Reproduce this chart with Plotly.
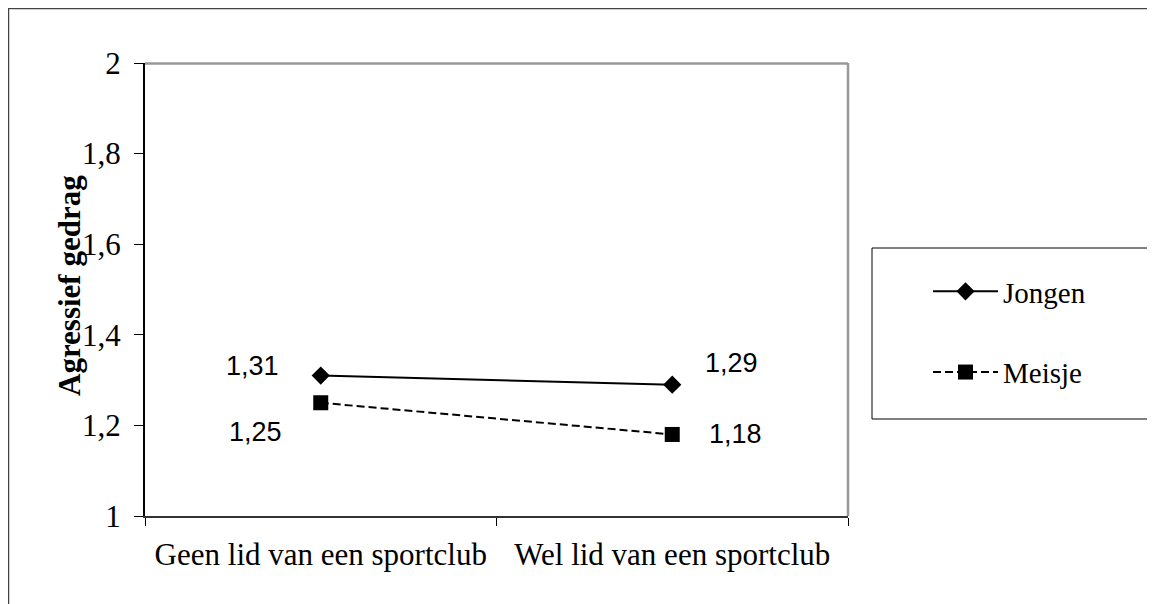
import plotly.graph_objects as go

categories = ["Geen lid van een sportclub", "Wel lid van een sportclub"]
jongen = [1.31, 1.29]
meisje = [1.25, 1.18]
series_names = ["Jongen", "Meisje"]
y_tickvals = [1, 1.2, 1.4, 1.6, 1.8, 2]
y_ticktext = ["1", "1,2", "1,4", "1,6", "1,8", "2"]
y_title = "Agressief gedrag"

W, H = 1155, 604
OFF = 8  # page body margin
SL, SR, ST, SB = 145, 848, 63, 516  # plot area in screen pixels


def px(x):
    return (x - SL) / (SR - SL)


def py(y):
    return (SB - y) / (SB - ST)


def fmt(v):
    return f"{v:.2f}".replace(".", ",")


SERIF = "Liberation Serif, Times New Roman, serif"
SANS = "Liberation Sans, Arial, sans-serif"

fig = go.Figure()
fig.add_trace(go.Scatter(
    x=categories, y=jongen, name=series_names[0], mode="lines+markers",
    line=dict(color="black", width=2),
    marker=dict(symbol="diamond", size=14, color="black"),
    legendgroup="a",
))
fig.add_trace(go.Scatter(
    x=categories, y=meisje, name=series_names[1], mode="lines+markers",
    line=dict(color="black", width=2, dash="8px,4px"),
    marker=dict(symbol="square", size=15, color="black"),
    legendgroup="b",
))

# data labels
label_offsets_j = [(-68, 10), (59, 22)]
label_offsets_m = [(-65, -29), (63, 0)]
for i, c in enumerate(categories):
    for vals, offs in ((jongen, label_offsets_j), (meisje, label_offsets_m)):
        fig.add_annotation(
            x=c, y=vals[i], text=fmt(vals[i]), showarrow=False,
            xshift=offs[i][0], yshift=offs[i][1],
            font=dict(family=SANS, size=27, color="black"),
        )

# y title
fig.add_annotation(
    xref="paper", yref="paper", x=px(69), y=py(286), text=f"<b>{y_title}</b>",
    textangle=-90, showarrow=False, xanchor="center", yanchor="middle",
    font=dict(family=SERIF, size=31, color="black"),
)

shapes = [
    dict(type="rect", xref="paper", yref="paper", x0=px(8.5), x1=px(1300),
         y0=py(8.5), y1=py(800), line=dict(color="#444444", width=1.5)),
    dict(type="line", xref="paper", yref="paper", x0=px(145), x1=px(848),
         y0=py(63.5), y1=py(63.5), line=dict(color="#999999", width=2.5)),
    dict(type="line", xref="paper", yref="paper", x0=px(848), x1=px(848),
         y0=py(63), y1=py(516), line=dict(color="#999999", width=2.5)),
    dict(type="rect", xref="paper", yref="paper", x0=px(872), x1=px(1154.5),
         y0=py(248), y1=py(419), line=dict(color="black", width=1)),
]

fig.update_layout(
    width=W, height=H,
    margin=dict(l=SL - OFF, r=W - (SR - OFF), t=ST - OFF, b=H - (SB - OFF)),
    paper_bgcolor="white", plot_bgcolor="white",
    shapes=shapes,
    showlegend=True,
    legend=dict(
        x=px(928), y=py(266), xanchor="left", yanchor="top",
        bgcolor="rgba(0,0,0,0)", borderwidth=0,
        font=dict(family=SERIF, size=29, color="black"),
        tracegroupgap=40, itemwidth=65,
    ),
    xaxis=dict(
        type="category", range=[-0.5, 1.5], tickson="boundaries",
        ticks="outside", ticklen=8, tickcolor="black", tickwidth=1,
        showline=True, linecolor="#333333", linewidth=2,
        showgrid=False, zeroline=False, ticklabelstandoff=10,
        tickfont=dict(family=SERIF, size=31, color="black"),
    ),
    yaxis=dict(
        range=[1, 2], tickvals=y_tickvals, ticktext=y_ticktext,
        ticks="outside", ticklen=9, tickcolor="black", tickwidth=1,
        showline=True, linecolor="black", linewidth=2,
        showgrid=False, zeroline=False, ticklabelstandoff=7,
        tickfont=dict(family=SERIF, size=31, color="black"),
    ),
)

fig.write_html("out.html")
